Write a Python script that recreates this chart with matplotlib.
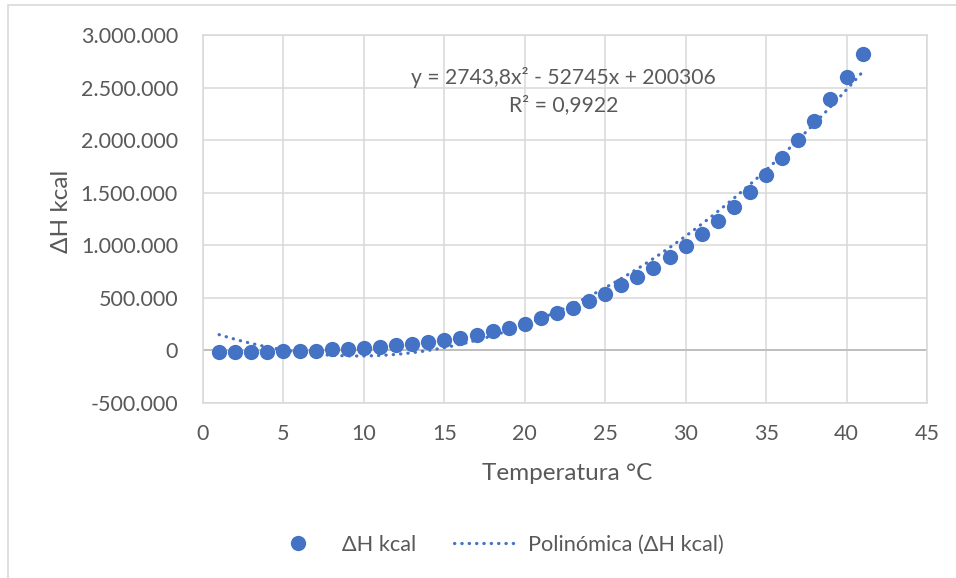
import matplotlib
matplotlib.use("Agg")
import matplotlib.pyplot as plt
import numpy as np
from matplotlib.patches import Rectangle

# Temperature (°C) and enthalpy change (kcal)
temperatura = list(range(1, 42))
delta_h = [
    -15000, -15000, -15000, -12000, -5000, -3000, -2000, 10000, 10000, 22000,
    32000, 48000, 63000, 76000, 100000, 120000, 150000, 185000, 210000, 254000,
    305000, 360000, 400000, 472000, 533000, 619000, 698000, 787000, 889000, 995000,
    1105000, 1232000, 1365000, 1508000, 1673000, 1832000, 2000000, 2184000, 2390000, 2603000,
    2819000,
]

# Second-order polynomial trendline coefficients (a, b, c)
coef_poly = [2743.8, -52745, 200306]
r2 = 0.9922

x_ticks = [0, 5, 10, 15, 20, 25, 30, 35, 40, 45]
y_ticks = [-500000, 0, 500000, 1000000, 1500000, 2000000, 2500000, 3000000]

BLUE = "#4472C4"
GRID = "#d9d9d9"
TEXT = "#595959"
FONT = "Lato"

plt.rcParams["font.family"] = [FONT, "DejaVu Sans"]

fig = plt.figure(figsize=(9.56, 5.78), dpi=100)
W, H = 956, 578
ax = fig.add_axes([203 / W, 1 - 403 / H, (927 - 203) / W, (403 - 35) / H])

# Outer chart frame
fig.patches.append(Rectangle((8 / W, -0.01), 1.2, 1 - 5 / H + 0.01,
                             transform=fig.transFigure, fill=False,
                             edgecolor=GRID, linewidth=1.2))

ax.set_xlim(0, 45)
ax.set_ylim(-500000, 3000000)
ax.set_xticks(x_ticks)
ax.set_yticks(y_ticks)
ax.set_xticklabels([str(v) for v in x_ticks])
ax.set_yticklabels([f"{v:,}".replace(",", ".") for v in y_ticks])

ax.grid(True, color=GRID, linewidth=1.1)
ax.set_axisbelow(True)
for s in ax.spines.values():
    s.set_color(GRID)
    s.set_linewidth(1.1)
ax.tick_params(length=0, labelsize=15.5, labelcolor=TEXT)
ax.tick_params(axis="x", pad=15)
ax.tick_params(axis="y", pad=18)

# Horizontal axis line at zero
ax.axhline(0, color="#bfbfbf", linewidth=1.4, zorder=1.5)

a, b, c = coef_poly
xt = np.linspace(min(temperatura), max(temperatura), 300)
yt = a * xt ** 2 + b * xt + c
trend, = ax.plot(xt, yt, linestyle=(0, (0.1, 2.2)), color=BLUE,
                 linewidth=2.3, dash_capstyle="round", zorder=3)
pts, = ax.plot(temperatura, delta_h, "o", color=BLUE, markersize=11,
               markeredgewidth=0, zorder=4)

ax.text(22.4, 2600000, "y = 2743,8x² - 52745x + 200306", ha="center",
        va="center", fontsize=15.2, color=TEXT, zorder=5)
ax.text(22.4, 2333000, f"R² = {str(r2).replace('.', ',')}", ha="center",
        va="center", fontsize=15.2, color=TEXT, zorder=5)

fig.text(567 / W, 1 - 473 / H, "Temperatura °C", ha="center", va="center",
         fontsize=17.5, color=TEXT)
fig.text(61 / W, 1 - 211 / H, "ΔH kcal", ha="center", va="center",
         rotation=90, fontsize=17.5, color=TEXT)

leg = fig.legend([pts, trend], ["ΔH kcal", "Polinómica (ΔH kcal)"],
                 loc="center", bbox_to_anchor=(496 / W, 1 - 545 / H),
                 ncol=2, frameon=False, fontsize=15.7, labelcolor=TEXT,
                 handlelength=2.8, columnspacing=1.75, handletextpad=0.6)

fig.savefig("out.png", dpi=100)
